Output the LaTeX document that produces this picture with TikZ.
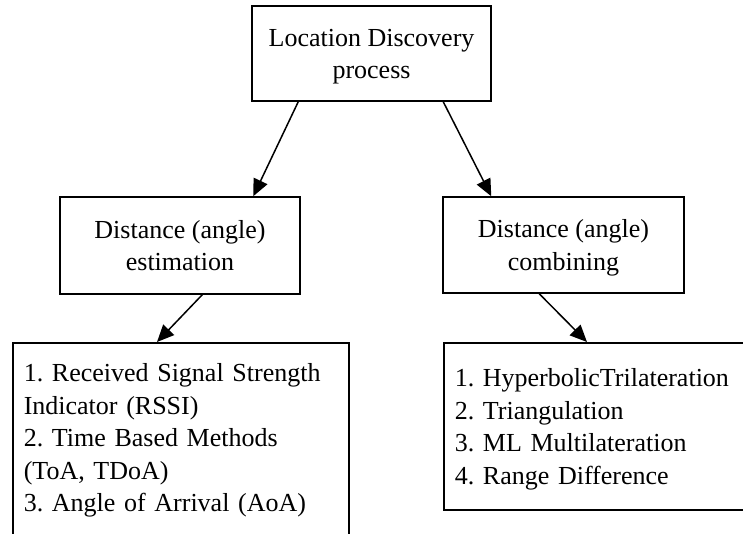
\documentclass[tikz,border=0pt]{standalone}
\usepackage{fontspec}
\setmainfont{Liberation Serif}
\usetikzlibrary{arrows.meta}
\frenchspacing

\begin{document}
\begin{tikzpicture}[x=1pt, y=-1pt,
		box/.style={draw, line width=1.5pt, inner sep=0pt, font=\fontsize{26}{32.5}\selectfont, align=center},
		twoline/.style={box, text height=50.5pt, text depth=0pt},
		listbox/.style={box, anchor=north west, align=left, inner xsep=11pt},
		arr/.style={line width=1.5pt, -{Triangle[length=17pt,width=15pt]}}]
	\useasboundingbox (0,0) rectangle (743,533);
	\clip (0,0) rectangle (743,533);

	\node (top) [twoline, minimum width=239pt, minimum height=95pt] at (371.5,53.5) {Location Discovery\\process};
	\node (estim) [twoline, minimum width=240pt, minimum height=97pt] at (180,245.5) {Distance (angle)\\estimation};
	\node (comb) [twoline, minimum width=241pt, minimum height=96pt] at (563.5,245) {Distance (angle)\\combining};

	\node (methods) [listbox, text width=314pt, minimum height=196pt] at (12,342) {
		1. Received Signal Strength\\
		Indicator (RSSI)\\
		2. Time Based Methods\\
		(ToA, TDoA)\\
		3. Angle of Arrival (AoA)};
	\node (algos) [listbox, text width=300pt, text depth=97.5pt, minimum height=167pt] at (443,342) {
		1. HyperbolicTrilateration\\
		2. Triangulation\\
		3. ML Multilateration\\
		4. Range Difference};

	\draw [arr] ([xshift=47pt]top.south west) -- ([xshift=194pt]estim.north west);
	\draw [arr] ([xshift=192pt]top.south west) -- ([xshift=49pt]comb.north west);
	\draw [arr] ([xshift=143pt]estim.south west) -- ([xshift=145pt]methods.north west);
	\draw [arr] ([xshift=97pt]comb.south west) -- ([xshift=144pt]algos.north west);
\end{tikzpicture}
\end{document}
